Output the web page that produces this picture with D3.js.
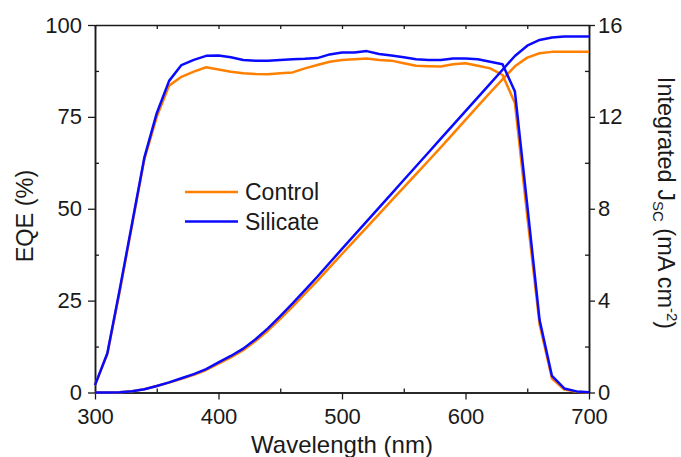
<!DOCTYPE html>
<html>
<head>
<meta charset="utf-8">
<script src="https://cdn.jsdelivr.net/npm/d3@7"></script>
<style>
  body { margin: 0; background: #fff; }
  svg text { font-family: "Liberation Sans", Arial, sans-serif; fill: #1a1a1a; }
</style>
</head>
<body>
<div id="chart"></div>
<script>
// wavelength grid (nm)
const wavelengths = d3.range(300, 701, 10);

// EQE (%)
const eqeControl = [2, 10.5, 27.5, 45.5, 63.5, 75, 83.5, 85.9, 87.3, 88.5,
  87.9, 87.3, 86.9, 86.7, 86.6, 86.9, 87.1, 88.2, 89.1, 90.0,
  90.5, 90.7, 90.9, 90.5, 90.3, 89.6, 88.9, 88.8, 88.7, 89.3,
  89.6, 88.9, 88.2, 86.4, 78.8, 48, 18.5, 3.8, 0.8, 0.2, 0];
const eqeSilicate = [2, 10.7, 28, 46, 64, 76, 84.8, 89.1, 90.5, 91.6,
  91.7, 91.2, 90.5, 90.3, 90.3, 90.5, 90.7, 90.8, 91.0, 92.0,
  92.5, 92.5, 92.9, 92.1, 91.7, 91.2, 90.7, 90.5, 90.5, 90.9,
  90.9, 90.7, 90.0, 89.3, 81.9, 51, 19.7, 4.5, 1.1, 0.3, 0.1];

// integrated Jsc (mA cm-2)
const jscControl = [0, 0, 0.01, 0.05, 0.14, 0.28, 0.43, 0.6, 0.77, 0.98,
  1.26, 1.53, 1.84, 2.24, 2.69, 3.21, 3.74, 4.3, 4.86, 5.45,
  6.03, 6.61, 7.19, 7.77, 8.35, 8.93, 9.51, 10.09, 10.67, 11.27,
  11.87, 12.47, 13.06, 13.63, 14.2, 14.58, 14.77, 14.83, 14.84, 14.84, 14.84];
const jscSilicate = [0, 0, 0.01, 0.05, 0.14, 0.28, 0.44, 0.62, 0.8, 1.02,
  1.31, 1.59, 1.91, 2.32, 2.79, 3.33, 3.88, 4.46, 5.04, 5.65,
  6.25, 6.85, 7.45, 8.05, 8.65, 9.25, 9.85, 10.45, 11.05, 11.65,
  12.25, 12.85, 13.45, 14.05, 14.65, 15.1, 15.35, 15.46, 15.5, 15.5, 15.5];

// tick values
const xTicks = [300, 400, 500, 600, 700];
const xMinor = [350, 450, 550, 650];
const eqeTicks = [0, 25, 50, 75, 100];
const eqeMinor = [12.5, 37.5, 62.5, 87.5];
const jscTicks = [0, 4, 8, 12, 16];
const jscMinor = [2, 6, 10, 14];

const seriesNames = ['Control', 'Silicate'];
const seriesColors = ['#ff8000', '#0a0aff'];

// dimensions
const width = 681;
const height = 457;
const margin = { top: 25, right: 92, bottom: 64.5, left: 95 };

const svg = d3.select('#chart')
  .append('svg')
  .attr('width', width)
  .attr('height', height);

const x = d3.scaleLinear().domain([300, 700]).range([margin.left, width - margin.right]);
const yEqe = d3.scaleLinear().domain([0, 100]).range([height - margin.bottom, margin.top]);
const yJsc = d3.scaleLinear().domain([0, 16]).range([height - margin.bottom, margin.top]);

const fontSize = 22;
const titleSize = 23.5;

function styleAxis(g) {
  g.select('.domain').attr('stroke', '#1a1a1a').attr('stroke-width', 1.5);
  g.selectAll('.tick line').attr('stroke', '#1a1a1a').attr('stroke-width', 1.3);
  g.selectAll('.tick text').attr('font-size', fontSize);
}

// bottom axis: major ticks outward, minor inward
svg.append('g')
  .attr('transform', `translate(0,${height - margin.bottom})`)
  .call(d3.axisBottom(x).tickValues(xTicks).tickSize(7).tickPadding(9).tickSizeOuter(0))
  .call(styleAxis);
svg.append('g')
  .attr('transform', `translate(0,${height - margin.bottom})`)
  .call(d3.axisBottom(x).tickValues(xMinor).tickSize(-4).tickFormat('').tickSizeOuter(0))
  .call(styleAxis);

// top axis: small inward ticks
svg.append('g')
  .attr('transform', `translate(0,${margin.top})`)
  .call(d3.axisTop(x).tickValues(xTicks.concat(xMinor)).tickSize(-4).tickFormat('').tickSizeOuter(0))
  .call(styleAxis);

// left axis (EQE)
svg.append('g')
  .attr('transform', `translate(${margin.left},0)`)
  .call(d3.axisLeft(yEqe).tickValues(eqeTicks).tickSize(7).tickPadding(6).tickSizeOuter(0))
  .call(styleAxis);
svg.append('g')
  .attr('transform', `translate(${margin.left},0)`)
  .call(d3.axisLeft(yEqe).tickValues(eqeMinor).tickSize(-4).tickFormat('').tickSizeOuter(0))
  .call(styleAxis);

// right axis (Jsc)
svg.append('g')
  .attr('transform', `translate(${width - margin.right},0)`)
  .call(d3.axisRight(yJsc).tickValues(jscTicks).tickSize(6).tickPadding(3).tickSizeOuter(0))
  .call(styleAxis);
svg.append('g')
  .attr('transform', `translate(${width - margin.right},0)`)
  .call(d3.axisRight(yJsc).tickValues(jscMinor).tickSize(-4).tickFormat('').tickSizeOuter(0))
  .call(styleAxis);

// curves
const eqeLine = d3.line().x((d, i) => x(wavelengths[i])).y((d) => yEqe(d));
const jscLine = d3.line().x((d, i) => x(wavelengths[i])).y((d) => yJsc(d));

const curves = [
  [eqeControl, eqeLine, 0],
  [jscControl, jscLine, 0],
  [eqeSilicate, eqeLine, 1],
  [jscSilicate, jscLine, 1]
];

curves.forEach(([data, gen, s]) => {
  svg.append('path')
    .datum(data)
    .attr('fill', 'none')
    .attr('stroke', seriesColors[s])
    .attr('stroke-width', 2.5)
    .attr('stroke-linejoin', 'round')
    .attr('d', gen);
});

// legend
const legend = svg.append('g').attr('transform', 'translate(185,192)');
seriesNames.forEach((name, i) => {
  const row = legend.append('g').attr('transform', `translate(0,${i * 29.5})`);
  row.append('line')
    .attr('x1', 0).attr('x2', 53)
    .attr('stroke', seriesColors[i])
    .attr('stroke-width', 2.5);
  row.append('text')
    .attr('x', 60)
    .attr('dy', '0.36em')
    .attr('font-size', 23)
    .text(name);
});

// axis titles
svg.append('text')
  .attr('x', (margin.left + width - margin.right) / 2)
  .attr('y', 453)
  .attr('text-anchor', 'middle')
  .attr('font-size', 24)
  .text('Wavelength (nm)');

svg.append('text')
  .attr('transform', 'translate(33,216) rotate(-90)')
  .attr('text-anchor', 'middle')
  .attr('font-size', titleSize)
  .text('EQE (%)');

const rightTitle = svg.append('text')
  .attr('transform', 'translate(658,203) rotate(90)')
  .attr('text-anchor', 'middle')
  .attr('font-size', titleSize);
rightTitle.append('tspan').text('Integrated J');
rightTitle.append('tspan').attr('font-size', 15).attr('dy', 5).text('SC');
rightTitle.append('tspan').attr('dy', -5).text(' (mA cm');
rightTitle.append('tspan').attr('font-size', 15).attr('dy', -9).text('-2');
rightTitle.append('tspan').attr('dy', 9).text(')');
</script>
</body>
</html>
